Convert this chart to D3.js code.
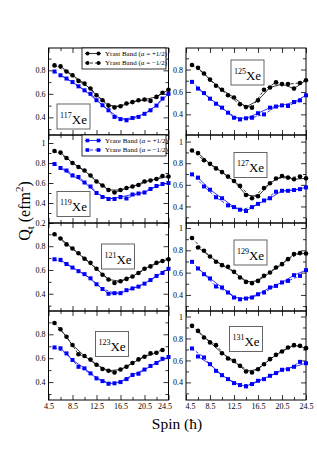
<!DOCTYPE html>
<html>
<head>
<meta charset="utf-8">
<script src="https://cdn.jsdelivr.net/npm/d3@7"></script>
<style>
    body { margin: 0; background: #fff; }
    svg text { font-family: "Liberation Serif", "Times New Roman", serif; }
</style>
</head>
<body>
<div id="chart"></div>
<script>
// Spin values (hbar) shared by every panel
const spins = [5.5, 6.5, 7.5, 8.5, 9.5, 10.5, 11.5, 12.5, 13.5, 14.5,
               15.5, 16.5, 17.5, 18.5, 19.5, 20.5, 21.5, 22.5, 23.5, 24.5];

const xTicks = [4.5, 8.5, 12.5, 16.5, 20.5, 24.5];
const xMinorTicks = [6.5, 10.5, 14.5, 18.5, 22.5];
const yTicks = [0.2, 0.4, 0.6, 0.8, 1];
const yMinorTicks = [0.3, 0.5, 0.7, 0.9];

// Qt (efm^2), yrast = black circles, yrare = blue squares
const yrast117 = [0.842, 0.834, 0.79, 0.758, 0.71, 0.687, 0.645, 0.588, 0.546, 0.50, 0.484, 0.495, 0.518, 0.53, 0.546, 0.552, 0.54, 0.574, 0.61, 0.635];
const yrare117 = [0.79, 0.758, 0.73, 0.70, 0.664, 0.63, 0.60, 0.546, 0.503, 0.46, 0.404, 0.385, 0.375, 0.395, 0.404, 0.43, 0.46, 0.50, 0.56, 0.60];

const yrast125 = [0.84, 0.815, 0.765, 0.71, 0.655, 0.62, 0.57, 0.55, 0.49, 0.465, 0.46, 0.525, 0.62, 0.64, 0.685, 0.67, 0.67, 0.63, 0.68, 0.705];
const yrare125 = [0.69, 0.63, 0.59, 0.54, 0.495, 0.46, 0.415, 0.37, 0.355, 0.365, 0.37, 0.41, 0.40, 0.46, 0.47, 0.48, 0.475, 0.51, 0.525, 0.57];

const yrast119 = [0.92, 0.905, 0.85, 0.80, 0.76, 0.725, 0.675, 0.615, 0.575, 0.53, 0.505, 0.53, 0.55, 0.565, 0.58, 0.615, 0.625, 0.64, 0.67, 0.665];
const yrare119 = [0.79, 0.75, 0.725, 0.675, 0.66, 0.605, 0.565, 0.50, 0.46, 0.44, 0.44, 0.46, 0.445, 0.485, 0.495, 0.505, 0.54, 0.57, 0.59, 0.60];

const yrast127 = [0.918, 0.894, 0.827, 0.794, 0.752, 0.718, 0.676, 0.636, 0.59, 0.506, 0.476, 0.494, 0.57, 0.615, 0.658, 0.682, 0.667, 0.652, 0.676, 0.66];
const yrare127 = [0.697, 0.667, 0.585, 0.555, 0.485, 0.476, 0.41, 0.394, 0.37, 0.358, 0.394, 0.424, 0.455, 0.476, 0.536, 0.545, 0.545, 0.552, 0.56, 0.576];

const yrast121 = [0.90, 0.865, 0.815, 0.78, 0.74, 0.695, 0.66, 0.61, 0.56, 0.52, 0.49, 0.505, 0.525, 0.545, 0.575, 0.61, 0.63, 0.66, 0.675, 0.69];
const yrare121 = [0.69, 0.685, 0.65, 0.62, 0.59, 0.565, 0.53, 0.48, 0.44, 0.40, 0.405, 0.405, 0.43, 0.445, 0.46, 0.485, 0.515, 0.55, 0.575, 0.61];

const yrast129 = [0.91, 0.826, 0.796, 0.745, 0.697, 0.667, 0.652, 0.607, 0.557, 0.517, 0.505, 0.526, 0.571, 0.601, 0.646, 0.676, 0.721, 0.766, 0.775, 0.772];
const yrare129 = [0.697, 0.637, 0.586, 0.548, 0.476, 0.467, 0.422, 0.377, 0.361, 0.368, 0.377, 0.406, 0.422, 0.467, 0.481, 0.512, 0.526, 0.577, 0.571, 0.622];

const yrast123 = [0.895, 0.842, 0.78, 0.71, 0.633, 0.618, 0.588, 0.545, 0.51, 0.495, 0.48, 0.505, 0.528, 0.56, 0.59, 0.612, 0.64, 0.646, 0.668, null];
const yrare123 = [0.69, 0.683, 0.64, 0.585, 0.528, 0.515, 0.473, 0.431, 0.408, 0.386, 0.39, 0.40, 0.425, 0.46, 0.47, 0.505, 0.535, 0.56, 0.595, 0.61];

const yrast131 = [0.915, 0.869, 0.809, 0.764, 0.739, 0.666, 0.618, 0.596, 0.551, 0.50, 0.49, 0.52, 0.566, 0.612, 0.651, 0.682, 0.718, 0.739, 0.733, 0.712];
const yrare131 = [0.709, 0.636, 0.627, 0.566, 0.505, 0.466, 0.43, 0.394, 0.376, 0.364, 0.385, 0.415, 0.43, 0.46, 0.485, 0.515, 0.52, 0.542, 0.587, 0.575];

// Layout
const width = 317, height = 449;
const cols = [{ x0: 48.5, x1: 168.5 }, { x0: 186, x1: 306 }];
const rows = [{ y0: 48, y1: 135 }, { y0: 135, y1: 223 }, { y0: 223, y1: 311 }, { y0: 311, y1: 400 }];
const BLUE = "#0000ff";

// one entry per panel: data + where it sits + where its label box goes
const panels = [
    { mass: "117", yrast: yrast117, yrare: yrare117, col: 0, row: 0, yDomain: [0.25, 0.99],  box: [8.5, 56],  legend: "yrast" },
    { mass: "125", yrast: yrast125, yrare: yrare125, col: 1, row: 0, yDomain: [0.216, 0.992], box: [45, 12] },
    { mass: "119", yrast: yrast119, yrare: yrare119, col: 0, row: 1, yDomain: [0.2, 1.08],   box: [8.5, 56.5], legend: "yrare" },
    { mass: "127", yrast: yrast127, yrare: yrare127, col: 1, row: 1, yDomain: [0.247, 1.061], box: [48, 17.5] },
    { mass: "121", yrast: yrast121, yrare: yrare121, col: 0, row: 2, yDomain: [0.255, 0.995], box: [53, 21] },
    { mass: "129", yrast: yrast129, yrare: yrare129, col: 1, row: 2, yDomain: [0.256, 1.045], box: [48, 17] },
    { mass: "123", yrast: yrast123, yrare: yrare123, col: 0, row: 3, yDomain: [0.25, 0.995], box: [47, 20.5] },
    { mass: "131", yrast: yrast131, yrare: yrare131, col: 1, row: 3, yDomain: [0.24, 1.05],  box: [43.5, 15.5] }
];

const svg = d3.select("#chart").append("svg")
    .attr("width", width)
    .attr("height", height);

svg.append("rect").attr("width", width).attr("height", height).attr("fill", "#fff");

// split a series into the two signature partners
// alpha = +1/2 : I = 6.5, 8.5, ...   alpha = -1/2 : I = 5.5, 7.5, ...
function bandPoints(values, plus) {
    return spins.map((s, i) => ({ s: s, v: values[i] }))
        .filter(d => d.v != null && (((d.s - 0.5) % 2 === 0) === plus));
}

function styleAxis(g) {
    g.select(".domain").remove();
    g.attr("font-size", 8)
        .attr("font-family", "Liberation Serif, Times New Roman, serif");
    g.selectAll(".tick line").attr("stroke-width", 0.8);
    g.selectAll(".tick text").attr("fill", "#000");
}

function drawPanel(p) {
    const c = cols[p.col], r = rows[p.row];
    const x = d3.scaleLinear().domain([4.5, 24.5]).range([c.x0, c.x1]);
    const y = d3.scaleLinear().domain(p.yDomain).range([r.y1, r.y0]);
    const inY = v => v >= p.yDomain[0] - 1e-6 && v <= p.yDomain[1] + 1e-6;

    const g = svg.append("g");
    const bottomRow = p.row === rows.length - 1;

    // x axes (bottom labelled only on last row), ticks point inward
    g.append("g").attr("transform", `translate(0,${r.y1})`)
        .call(d3.axisBottom(x).tickValues(xTicks).tickSize(-5).tickPadding(3)
            .tickFormat(d => bottomRow ? String(d) : ""))
        .call(styleAxis)
        .call(ax => ax.selectAll("text")
            .attr("dx", d => (p.col === 0 && d === 24.5) ? -4 : (p.col === 1 && d === 4.5) ? 4 : 0));
    g.append("g").attr("transform", `translate(0,${r.y1})`)
        .call(d3.axisBottom(x).tickValues(xMinorTicks).tickSize(-3).tickFormat(() => ""))
        .call(styleAxis);
    g.append("g").attr("transform", `translate(0,${r.y0})`)
        .call(d3.axisTop(x).tickValues(xTicks).tickSize(-5).tickFormat(() => ""))
        .call(styleAxis);
    g.append("g").attr("transform", `translate(0,${r.y0})`)
        .call(d3.axisTop(x).tickValues(xMinorTicks).tickSize(-3).tickFormat(() => ""))
        .call(styleAxis);

    // y axes
    g.append("g").attr("transform", `translate(${c.x0},0)`)
        .call(d3.axisLeft(y).tickValues(yTicks.filter(inY)).tickSize(-5).tickPadding(3)
            .tickFormat(d => d === 1 ? "1" : d3.format(".1f")(d)))
        .call(styleAxis);
    g.append("g").attr("transform", `translate(${c.x0},0)`)
        .call(d3.axisLeft(y).tickValues(yMinorTicks.filter(inY)).tickSize(-3).tickFormat(() => ""))
        .call(styleAxis);
    g.append("g").attr("transform", `translate(${c.x1},0)`)
        .call(d3.axisRight(y).tickValues(yTicks.filter(inY)).tickSize(-5).tickFormat(() => ""))
        .call(styleAxis);
    g.append("g").attr("transform", `translate(${c.x1},0)`)
        .call(d3.axisRight(y).tickValues(yMinorTicks.filter(inY)).tickSize(-3).tickFormat(() => ""))
        .call(styleAxis);

    // frame
    g.append("rect")
        .attr("x", c.x0).attr("y", r.y0)
        .attr("width", c.x1 - c.x0).attr("height", r.y1 - r.y0)
        .attr("fill", "none").attr("stroke", "#000").attr("stroke-width", 1);

    const line = d3.line().x(d => x(d.s)).y(d => y(d.v));

    // lines first, markers on top
    [[p.yrare, BLUE], [p.yrast, "#000"]].forEach(([vals, col]) => {
        [true, false].forEach(plus => {
            g.append("path")
                .datum(bandPoints(vals, plus))
                .attr("d", line)
                .attr("fill", "none")
                .attr("stroke", col)
                .attr("stroke-width", 0.8)
                .attr("stroke-dasharray", plus ? null : "3,2");
        });
    });

    const rare = spins.map((s, i) => ({ s: s, v: p.yrare[i] })).filter(d => d.v != null);
    g.selectAll(".sq").data(rare).enter().append("rect")
        .attr("x", d => x(d.s) - 2).attr("y", d => y(d.v) - 2)
        .attr("width", 4).attr("height", 4)
        .attr("fill", BLUE);

    const rast = spins.map((s, i) => ({ s: s, v: p.yrast[i] })).filter(d => d.v != null);
    g.selectAll(".dot").data(rast).enter().append("circle")
        .attr("cx", d => x(d.s)).attr("cy", d => y(d.v))
        .attr("r", 2.3)
        .attr("fill", "#000");

    // nucleus label box
    const bx = c.x0 + p.box[0], by = r.y0 + p.box[1];
    g.append("rect")
        .attr("x", bx).attr("y", by).attr("width", 33).attr("height", 25)
        .attr("fill", "#fff").attr("stroke", "#555").attr("stroke-width", 0.9);
    const t = g.append("text")
        .attr("x", bx + 16.5).attr("y", by + 19.5)
        .attr("text-anchor", "middle")
        .attr("font-size", 13);
    t.append("tspan").attr("font-size", 8).attr("dy", -6).text(p.mass);
    t.append("tspan").attr("dy", 6).text("Xe");

    if (p.legend) drawLegend(g, c.x0 + 33.5, r.y0, p.legend);
}

function drawLegend(g, lx, ly, kind) {
    const col = kind === "yrast" ? "#000" : BLUE;
    const name = kind === "yrast" ? "Yrast Band" : "Yrare Band";
    g.append("rect")
        .attr("x", lx).attr("y", ly).attr("width", 84).attr("height", 21)
        .attr("fill", "#fff").attr("stroke", "#000").attr("stroke-width", 0.8);

    [["+1/2", null], ["\u22121/2", "3,2"]].forEach(([a, dash], i) => {
        const yy = ly + 5.5 + i * 9.5;
        g.append("line")
            .attr("x1", lx + 3).attr("x2", lx + 19).attr("y1", yy).attr("y2", yy)
            .attr("stroke", col).attr("stroke-width", 0.8)
            .attr("stroke-dasharray", dash);
        [lx + 5.5, lx + 16.5].forEach(mx => {
            if (kind === "yrast") {
                g.append("circle").attr("cx", mx).attr("cy", yy).attr("r", 2).attr("fill", col);
            } else {
                g.append("rect").attr("x", mx - 1.8).attr("y", yy - 1.8)
                    .attr("width", 3.6).attr("height", 3.6).attr("fill", col);
            }
        });
        g.append("text")
            .attr("x", lx + 23).attr("y", yy + 2.2)
            .attr("font-size", 7)
            .text(`${name} (\u03b1 = ${a})`);
    });
}

panels.forEach(drawPanel);

// axis titles
const yt = svg.append("text")
    .attr("transform", "translate(29.5,211) rotate(-90)")
    .attr("text-anchor", "middle")
    .attr("font-size", 16);
yt.append("tspan").text("Q");
yt.append("tspan").attr("font-size", 11).attr("dy", 4).text("t");
yt.append("tspan").attr("dy", -4).text(" (efm");
yt.append("tspan").attr("font-size", 11).attr("dy", -7).text("2");
yt.append("tspan").attr("dy", 7).text(")");

svg.append("text")
    .attr("x", 177).attr("y", 429)
    .attr("text-anchor", "middle")
    .attr("font-size", 15.5)
    .text("Spin (\u0127)");
</script>
</body>
</html>
